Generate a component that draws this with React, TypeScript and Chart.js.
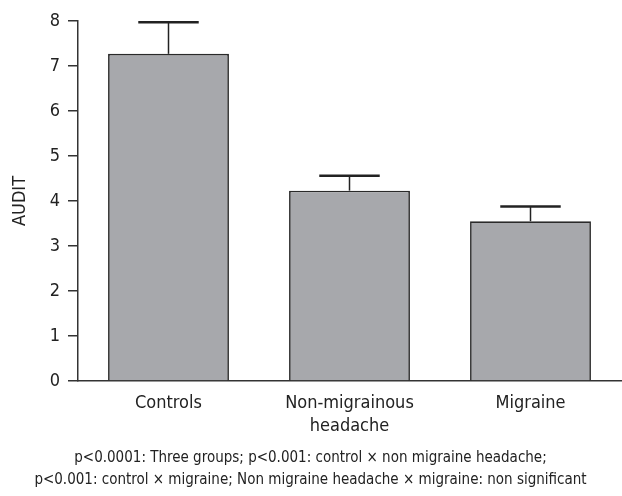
import React, { useEffect, useRef } from "react";
import { Chart, registerables } from "chart.js";

Chart.register(...registerables);

const categories: (string | string[])[] = ["Controls", ["Non-migrainous", "headache"], "Migraine"];
const auditMeans: number[] = [7.27, 4.23, 3.55];
const auditErrors: number[] = [0.7, 0.33, 0.33];
const yTicks: number[] = [0, 1, 2, 3, 4, 5, 6, 7, 8];
const captionLines: string[] = [
  "p<0.0001: Three groups; p<0.001: control \u00d7 non migraine headache;",
  "p<0.001: control \u00d7 migraine; Non migraine headache \u00d7 migraine: non significant",
];

const FONT = "'DejaVu Sans Condensed', 'DejaVu Sans', sans-serif";
const INK = "#222222";

const errorBarPlugin = {
  id: "errorBars",
  afterDatasetsDraw(chart: any) {
    const ctx = chart.ctx;
    const meta = chart.getDatasetMeta(0);
    const yScale = chart.scales.y;
    ctx.save();
    ctx.strokeStyle = INK;
    meta.data.forEach((bar: any, i: number) => {
      const topVal = auditMeans[i] + auditErrors[i];
      const yTop = yScale.getPixelForValue(topVal);
      const yBar = yScale.getPixelForValue(auditMeans[i]);
      const half = bar.width / 4;
      ctx.lineWidth = 1.5;
      ctx.beginPath();
      ctx.moveTo(bar.x, yBar);
      ctx.lineTo(bar.x, yTop);
      ctx.stroke();
      ctx.lineWidth = 2.5;
      ctx.beginPath();
      ctx.moveTo(bar.x - half, yTop);
      ctx.lineTo(bar.x + half, yTop);
      ctx.stroke();
    });
    ctx.restore();
  },
};

export default function App() {
  const ref = useRef<HTMLCanvasElement | null>(null);

  useEffect(() => {
    document.body.style.margin = "0";
    const canvas = ref.current;
    if (!canvas) return;
    const chart = new Chart(canvas, {
      type: "bar",
      data: {
        labels: categories as any,
        datasets: [
          {
            data: auditMeans,
            backgroundColor: "#a7a8ac",
            borderColor: "#2a2a2a",
            borderWidth: 1.7,
            barPercentage: 0.668,
            categoryPercentage: 1,
          },
        ],
      },
      options: {
        responsive: false,
        animation: false,
        devicePixelRatio: 1,
        layout: { padding: { top: 21, right: 1, left: 0, bottom: 0 } },
        plugins: {
          legend: { display: false },
          tooltip: { enabled: false },
          title: {
            display: true,
            position: "bottom",
            text: captionLines,
            color: INK,
            font: { family: FONT, size: 15, weight: "normal", lineHeight: "22px" },
            padding: { top: 0, bottom: 5 },
          },
        },
        scales: {
          x: {
            grid: { display: false },
            border: { display: true, color: "#333333", width: 1.5 },
            ticks: {
              color: INK,
              padding: 3,
              font: { family: FONT, size: 18, lineHeight: "23px" },
              maxRotation: 0,
              autoSkip: false,
            },
            afterFit(scale: any) {
              scale.height = 66;
            },
          },
          y: {
            min: 0,
            max: 8,
            afterBuildTicks(scale: any) {
              scale.ticks = yTicks.map((v) => ({ value: v }));
            },
            grid: {
              drawOnChartArea: false,
              drawTicks: true,
              tickLength: 10,
              color: "#333333",
              lineWidth: 1.5,
            },
            border: { display: true, color: "#333333", width: 1.5 },
            ticks: {
              color: INK,
              padding: 8,
              font: { family: FONT, size: 18 },
            },
            title: {
              display: true,
              text: "AUDIT",
              color: INK,
              font: { family: FONT, size: 18 },
              padding: { top: 10, bottom: 0 },
            },
            afterFit(scale: any) {
              scale.width = 78;
            },
          },
        },
      },
      plugins: [errorBarPlugin],
    });
    return () => chart.destroy();
  }, []);

  return <canvas ref={ref} width={622} height={496} style={{ display: "block" }} />;
}
